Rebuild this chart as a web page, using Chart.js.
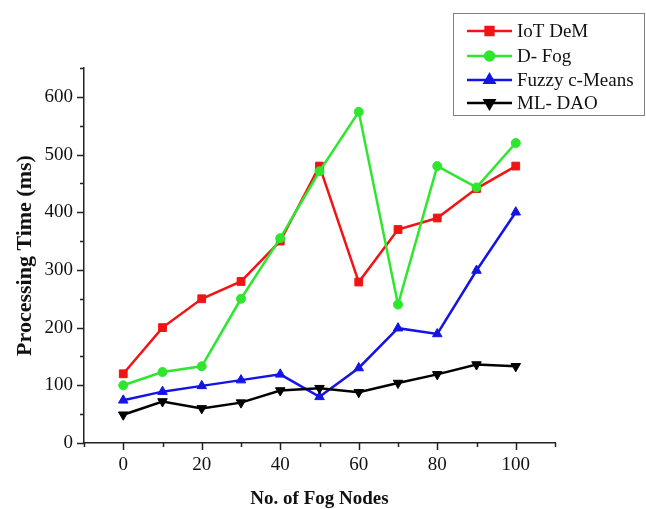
<!DOCTYPE html>
<html>
<head>
<meta charset="utf-8">
<script src="https://cdn.jsdelivr.net/npm/chart.js@4.4.1/dist/chart.umd.min.js"></script>
<style>
  body { margin: 0; background: #fff; }
  canvas { display: block; }
</style>
</head>
<body>
<canvas id="procChart" width="646" height="509"></canvas>
<script>
// values
const nodes = [0, 10, 20, 30, 40, 50, 60, 70, 80, 90, 100];
const iotDem = [120, 200, 250, 280, 350, 480, 279, 370, 390, 441, 480];
const dFog = [100, 123, 133, 250, 355, 471, 574, 240, 480, 443, 520];
const fuzzyCMeans = [74, 89, 99, 109, 119, 80, 130, 199, 189, 299, 400];
const mlDao = [49, 72, 60, 70, 91, 95, 88, 104, 119, 136, 133];

const xTickLabels = [0, 20, 40, 60, 80, 100];
const yTickLabels = [0, 100, 200, 300, 400, 500, 600];

const serif = '"Liberation Serif", "Times New Roman", serif';

function pts(arr) {
    return nodes.map((n, i) => ({ x: n, y: arr[i] }));
}

// tick marks: long for labelled ones, short for the rest
const tickMarks = {
    id: 'tickMarks',
    afterDraw(chart) {
        const ctx = chart.ctx;
        const xs = chart.scales.x, ys = chart.scales.y;
        ctx.save();
        ctx.strokeStyle = '#222';
        ctx.lineWidth = 1.5;
        xs.ticks.forEach(t => {
            const px = Math.round(xs.getPixelForValue(t.value)) + 0.5;
            const len = t.label !== '' ? 7 : 4;
            ctx.beginPath();
            ctx.moveTo(px, xs.top);
            ctx.lineTo(px, xs.top + len);
            ctx.stroke();
        });
        ys.ticks.forEach(t => {
            const py = Math.round(ys.getPixelForValue(t.value)) + 0.5;
            const len = t.label !== '' ? 7 : 4;
            ctx.beginPath();
            ctx.moveTo(ys.right, py);
            ctx.lineTo(ys.right - len, py);
            ctx.stroke();
        });
        ctx.restore();
    }
};

// boxed legend in the top right corner
const boxLegend = {
    id: 'boxLegend',
    afterDraw(chart) {
        const ctx = chart.ctx;
        ctx.save();
        ctx.strokeStyle = '#808080';
        ctx.lineWidth = 1;
        ctx.strokeRect(453.5, 13.5, 191, 102);
        const rows = [31, 56, 80, 103];
        ctx.font = '19px ' + serif;
        ctx.textBaseline = 'middle';
        chart.data.datasets.forEach((ds, i) => {
            const y = rows[i];
            ctx.strokeStyle = ds.borderColor;
            ctx.fillStyle = ds.backgroundColor;
            ctx.lineWidth = 2.5;
            ctx.beginPath();
            ctx.moveTo(467, y);
            ctx.lineTo(512, y);
            ctx.stroke();
            Chart.helpers.drawPoint(ctx, {
                pointStyle: ds.pointStyle,
                rotation: ds.pointRotation || 0,
                radius: ds.pointRadius,
                borderWidth: 1
            }, 489.5, y);
            ctx.fillStyle = '#111';
            ctx.fillText(ds.label, 517, y + 1);
        });
        ctx.restore();
    }
};

new Chart(document.getElementById('procChart'), {
    type: 'line',
    data: {
        datasets: [
            {
                label: 'IoT DeM',
                data: pts(iotDem),
                borderColor: '#f01414',
                backgroundColor: '#f01414',
                pointStyle: 'rect',
                pointRadius: 5.5,
                order: 4
            },
            {
                label: 'D- Fog',
                data: pts(dFog),
                borderColor: '#2ee62e',
                backgroundColor: '#2ee62e',
                pointStyle: 'circle',
                pointRadius: 4.5,
                order: 3
            },
            {
                label: 'Fuzzy c-Means',
                data: pts(fuzzyCMeans),
                borderColor: '#1414e6',
                backgroundColor: '#1414e6',
                pointStyle: 'triangle',
                pointRadius: 5.5,
                order: 2
            },
            {
                label: 'ML- DAO',
                data: pts(mlDao),
                borderColor: '#000',
                backgroundColor: '#000',
                pointStyle: 'triangle',
                pointRotation: 180,
                pointRadius: 5.5,
                order: 1
            }
        ]
    },
    options: {
        responsive: false,
        animation: false,
        datasets: {
            line: { borderWidth: 2.5, tension: 0, pointBorderWidth: 1 }
        },
        layout: { padding: { top: 68, right: 91, left: 0, bottom: 0 } },
        plugins: {
            legend: { display: false },
            tooltip: { enabled: false }
        },
        scales: {
            x: {
                type: 'linear',
                min: -10,
                max: 110,
                afterFit: s => { s.height = 66; },
                grid: { display: true, drawOnChartArea: false, drawTicks: false },
                border: { display: true, color: '#222', width: 1.5 },
                ticks: {
                    stepSize: 10,
                    autoSkip: false,
                    maxRotation: 0,
                    padding: 11,
                    color: '#111',
                    font: { family: serif, size: 19 },
                    callback: v => xTickLabels.includes(v) ? String(v) : ''
                },
                title: {
                    display: true,
                    text: 'No. of Fog Nodes',
                    color: '#111',
                    padding: { top: 0, bottom: 0 },
                    font: { family: serif, size: 19, weight: 'bold', lineHeight: 1 }
                }
            },
            y: {
                min: 0,
                max: 650,
                afterFit: s => { s.width = 84; },
                grid: { display: true, drawOnChartArea: false, drawTicks: false },
                border: { display: true, color: '#222', width: 1.5 },
                ticks: {
                    stepSize: 50,
                    autoSkip: false,
                    padding: 11,
                    color: '#111',
                    font: { family: serif, size: 19 },
                    callback: v => yTickLabels.includes(v) ? String(v) : ''
                },
                title: {
                    display: true,
                    text: 'Processing Time (ms)',
                    color: '#111',
                    padding: { top: 14, bottom: 0 },
                    font: { family: serif, size: 22, weight: 'bold', lineHeight: 1 }
                }
            }
        }
    },
    plugins: [tickMarks, boxLegend]
});
</script>
</body>
</html>
